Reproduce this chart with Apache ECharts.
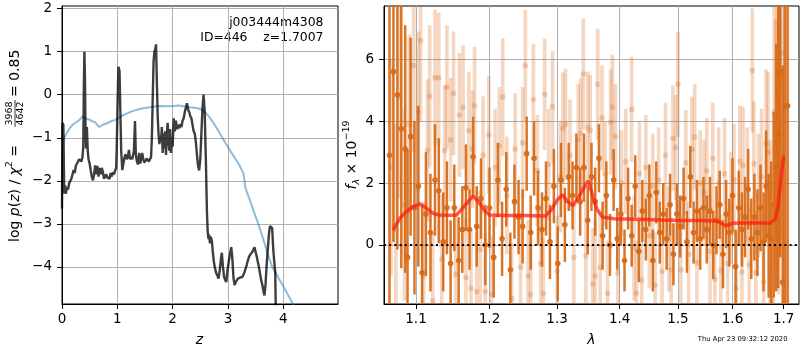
<!DOCTYPE html>
<html>
<head>
<meta charset="utf-8">
<script src="https://cdn.jsdelivr.net/npm/echarts@6/dist/echarts.min.js"></script>
<style>
  html, body { margin: 0; padding: 0; background: #fff; }
  #chart { width: 800px; height: 350px; }
</style>
</head>
<body>
<div id="chart"></div>
<script>
// ---- redshift probability: log p(z) and the template prior curve ----
const pzCurve = [
  [0.000,-2.65],[0.008,-0.65],[0.025,-0.70],[0.040,-2.30],[0.055,-2.10],[0.070,-2.30],[0.090,-2.15],[0.110,-2.20],
  [0.130,-2.05],[0.150,-2.05],[0.170,-1.95],[0.190,-1.85],[0.210,-1.75],[0.230,-1.82],[0.250,-1.65],[0.270,-1.62],
  [0.290,-1.55],[0.310,-1.50],[0.330,-1.52],[0.350,-1.55],[0.370,-1.45],[0.385,-1.20],[0.395,0.20],[0.405,1.00],
  [0.415,0.40],[0.425,-0.85],[0.435,-1.25],[0.450,-0.75],[0.465,-1.30],[0.480,-1.50],[0.500,-1.60],[0.520,-1.76],
  [0.540,-1.91],[0.560,-1.99],[0.580,-1.85],[0.600,-1.64],[0.620,-1.85],[0.640,-1.65],[0.660,-1.90],[0.680,-1.70],
  [0.700,-1.85],[0.720,-1.70],[0.740,-1.80],[0.760,-1.95],[0.780,-1.90],[0.800,-1.85],[0.820,-1.92],[0.840,-1.88],
  [0.860,-1.95],[0.880,-1.82],[0.900,-1.90],[0.920,-1.80],[0.940,-1.85],[0.960,-1.76],[0.980,-1.70],[0.990,-1.20],
  [1.005,-0.20],[1.020,0.65],[1.040,0.55],[1.055,-0.40],[1.070,-1.30],[1.090,-1.75],[1.110,-1.60],[1.130,-1.45],
  [1.150,-1.38],[1.170,-1.50],[1.190,-1.45],[1.210,-1.28],[1.230,-1.50],[1.250,-1.45],[1.270,-1.50],[1.300,-1.30],
  [1.320,-0.61],[1.335,-1.40],[1.355,-1.55],[1.375,-1.62],[1.395,-1.35],[1.415,-1.60],[1.430,-1.50],[1.450,-1.35],
  [1.470,-1.50],[1.490,-1.58],[1.510,-1.60],[1.530,-1.48],[1.550,-1.50],[1.570,-1.55],[1.590,-1.52],[1.610,-1.45],
  [1.625,-1.00],[1.640,-0.10],[1.655,0.75],[1.670,1.00],[1.685,1.05],[1.700,1.17],[1.715,0.30],[1.730,-0.50],
  [1.745,-0.90],[1.760,-1.15],[1.775,-0.95],[1.790,-1.10],[1.805,-0.75],[1.820,-1.35],[1.835,-0.90],[1.850,-1.25],
  [1.865,-0.85],[1.880,-1.40],[1.895,-0.95],[1.910,-0.65],[1.925,-1.05],[1.940,-1.30],[1.955,-0.80],[1.970,-1.35],
  [1.985,-1.10],[2.000,-1.20],[2.020,-0.55],[2.040,-0.85],[2.060,-0.60],[2.080,-0.80],[2.100,-0.70],[2.120,-0.78],
  [2.140,-0.68],[2.160,-0.75],[2.180,-0.60],[2.200,-0.55],[2.220,-0.40],[2.240,-0.30],[2.260,-0.20],[2.280,-0.35],
  [2.300,-0.40],[2.320,-0.50],[2.340,-0.55],[2.360,-0.70],[2.380,-0.85],[2.400,-0.90],[2.420,-1.10],[2.440,-1.40],
  [2.460,-1.65],[2.480,-1.76],[2.500,-1.50],[2.520,-0.90],[2.540,-0.30],[2.560,0.00],[2.580,-0.40],[2.600,-1.45],
  [2.620,-2.70],[2.635,-3.20],[2.650,-3.35],[2.660,-3.25],[2.675,-3.45],[2.690,-3.30],[2.710,-3.40],[2.730,-3.70],
  [2.750,-3.92],[2.770,-4.05],[2.790,-4.15],[2.810,-4.20],[2.830,-4.27],[2.850,-4.10],[2.870,-3.85],[2.890,-3.67],
  [2.910,-4.00],[2.930,-4.23],[2.950,-4.30],[2.970,-4.35],[2.990,-4.10],[3.010,-3.92],[3.030,-3.75],[3.060,-3.54],
  [3.080,-3.80],[3.100,-4.25],[3.120,-4.42],[3.140,-4.35],[3.160,-4.31],[3.180,-4.27],[3.200,-4.30],[3.220,-4.25],
  [3.240,-4.23],[3.260,-4.23],[3.280,-4.18],[3.300,-4.12],[3.320,-4.08],[3.340,-3.95],[3.360,-3.85],[3.380,-3.77],
  [3.400,-3.72],[3.420,-3.68],[3.440,-3.65],[3.460,-3.60],[3.480,-3.54],[3.500,-3.65],[3.520,-3.75],[3.540,-3.88],
  [3.560,-4.00],[3.580,-4.15],[3.600,-4.30],[3.620,-4.40],[3.640,-4.55],[3.660,-4.66],[3.680,-4.40],[3.700,-3.95],
  [3.720,-3.60],[3.740,-3.25],[3.760,-3.05],[3.780,-3.03],[3.800,-3.10],[3.820,-3.60],[3.840,-3.92],[3.855,-4.10],
  [3.870,-5.50]
];

const priorCurve = [
  [0.00,-1.21],[0.03,-1.05],[0.06,-0.95],[0.10,-0.86],[0.15,-0.76],[0.20,-0.69],[0.25,-0.64],[0.30,-0.60],
  [0.34,-0.55],[0.37,-0.50],[0.40,-0.52],[0.44,-0.56],[0.50,-0.58],[0.55,-0.62],[0.60,-0.64],[0.63,-0.66],
  [0.67,-0.75],[0.70,-0.72],[0.75,-0.69],[0.80,-0.67],[0.85,-0.64],[0.90,-0.61],[0.95,-0.59],[1.00,-0.56],
  [1.05,-0.52],[1.10,-0.48],[1.15,-0.45],[1.20,-0.42],[1.30,-0.37],[1.40,-0.33],[1.50,-0.31],[1.60,-0.29],
  [1.70,-0.27],[1.80,-0.26],[1.90,-0.27],[2.00,-0.27],[2.10,-0.25],[2.20,-0.27],[2.30,-0.29],[2.40,-0.30],
  [2.50,-0.33],[2.60,-0.42],[2.70,-0.58],[2.80,-0.78],[2.90,-1.00],[3.00,-1.22],[3.10,-1.42],[3.20,-1.62],
  [3.28,-1.82],[3.30,-2.00],[3.32,-2.18],[3.40,-2.46],[3.47,-2.72],[3.55,-3.00],[3.65,-3.40],[3.72,-3.70],
  [3.80,-4.00],[3.90,-4.22],[4.00,-4.45],[4.10,-4.68],[4.18,-4.87],[4.25,-5.03]
];

// ---- 1D spectrum: [wavelength (um), flux, 1-sigma error] ----
const specMain = [
  [1.066,2.9,6.0],[1.071,5.6,5.5],[1.076,4.85,5.0],[1.081,3.75,4.5],[1.086,3.1,4.0],[1.089,-0.4,3.5],
  [1.093,3.5,3.2],[1.098,1.2,2.8],[1.103,1.9,2.6],[1.108,-0.9,2.2],[1.113,1.0,2.0],[1.119,0.4,1.9],
  [1.125,2.1,1.8],[1.130,1.75,1.7],[1.136,0.1,1.6],[1.141,1.2,1.5],[1.146,-0.6,1.4],[1.151,1.2,1.4],
  [1.157,-0.5,1.4],[1.162,0.5,1.4],[1.167,1.85,1.4],[1.172,0.5,1.3],[1.177,2.85,1.3],[1.182,0.6,1.3],
  [1.188,1.5,1.3],[1.194,0.0,1.3],[1.200,1.2,1.3],[1.206,-0.4,1.3],[1.212,2.1,1.2],[1.218,0.2,1.2],
  [1.224,1.8,1.2],[1.230,-0.8,1.2],[1.236,1.4,1.2],[1.242,0.9,1.2],[1.248,0.6,1.2],[1.254,2.95,1.2],
  [1.260,0.4,1.2],[1.265,2.8,1.2],[1.271,1.2,1.2],[1.277,0.5,1.2],[1.283,1.5,1.2],[1.289,0.1,1.2],
  [1.295,1.9,1.2],[1.301,-0.6,1.2],[1.306,2.1,1.2],[1.312,0.65,1.2],[1.318,2.2,1.1],[1.324,1.6,1.1],
  [1.330,2.5,1.1],[1.336,1.4,1.1],[1.342,2.5,1.1],[1.348,0.8,1.1],[1.354,2.2,1.1],[1.360,1.4,1.1],
  [1.366,2.8,1.1],[1.372,0.3,1.1],[1.378,1.6,1.1],[1.384,0.0,1.0],[1.390,2.1,1.0],[1.396,0.2,1.0],
  [1.402,1.0,1.0],[1.408,-0.5,1.0],[1.414,1.5,1.0],[1.420,0.3,1.0],[1.426,1.9,1.0],[1.432,-0.2,1.0],
  [1.438,1.1,1.0],[1.444,0.5,1.0],[1.450,1.6,1.0],[1.456,-0.5,1.0],[1.462,1.7,1.0],[1.468,0.4,1.0],
  [1.474,1.0,1.0],[1.480,0.2,1.0],[1.486,1.3,1.0],[1.492,-0.3,1.0],[1.498,1.0,1.0],[1.504,0.6,1.0],
  [1.510,1.5,1.0],[1.516,0.1,1.0],[1.522,2.2,1.0],[1.528,0.4,1.0],[1.534,1.1,1.0],[1.540,0.2,1.0],
  [1.546,1.2,1.0],[1.552,0.5,1.1],[1.558,1.1,1.1],[1.564,0.0,1.1],[1.570,0.8,1.1],[1.576,1.3,1.1],
  [1.582,-0.3,1.1],[1.588,1.0,1.1],[1.594,0.4,1.1],[1.600,1.6,1.2],[1.606,-0.7,1.2],[1.612,1.2,1.2],
  [1.618,0.5,1.2],[1.624,0.9,1.3],[1.630,1.8,1.3],[1.636,0.2,1.3],[1.642,0.9,1.4],[1.648,0.4,1.4],
  [1.654,1.2,1.4],[1.660,0.1,1.6],[1.665,1.9,1.8],[1.670,0.3,2.0],[1.675,0.2,2.5],[1.680,1.3,3.0],
  [1.685,2.5,4.0],[1.689,3.6,5.0],[1.693,5.6,6.0],[1.698,-1.2,7.0],[1.703,4.5,8.0],[1.708,4.5,8.0]
];

const specAlt = [
  [1.068,2.5,3.5],[1.074,0.5,3.4],[1.079,4.8,3.3],[1.085,1.3,3.1],[1.091,3.9,2.9],[1.097,5.8,2.8],
  [1.103,4.3,2.6],[1.106,6.6,2.6],[1.110,-1.0,2.4],[1.115,3.05,2.3],[1.118,4.8,2.3],[1.122,-1.8,2.2],
  [1.125,5.4,2.2],[1.130,5.4,2.1],[1.134,-0.46,2.1],[1.138,3.05,2.1],[1.141,5.1,2.0],[1.146,3.4,2.0],
  [1.150,4.9,2.0],[1.153,-0.95,2.0],[1.158,4.2,2.0],[1.163,4.45,2.0],[1.167,-1.05,1.9],[1.171,3.7,1.9],
  [1.174,-1.4,1.9],[1.176,3.1,1.9],[1.179,4.5,1.9],[1.182,-1.5,1.9],[1.187,-0.15,1.9],[1.191,2.9,1.9],
  [1.194,-1.5,1.9],[1.199,3.55,1.9],[1.203,-1.6,1.9],[1.208,2.5,1.9],[1.214,3.2,1.9],[1.219,4.78,1.9],
  [1.225,1.6,1.9],[1.232,-1.74,1.8],[1.237,3.1,1.8],[1.245,-0.71,1.8],[1.248,3.3,1.8],[1.252,5.8,1.8],
  [1.256,-1.0,1.8],[1.260,-1.6,1.8],[1.264,4.7,1.8],[1.270,2.4,1.8],[1.275,-0.6,1.8],[1.279,-1.57,1.8],
  [1.281,4.87,1.8],[1.287,2.6,1.8],[1.293,4.46,1.8],[1.300,-0.85,1.8],[1.305,2.2,1.8],[1.309,3.77,1.8],
  [1.313,3.9,1.8],[1.320,2.9,1.8],[1.326,-0.4,1.8],[1.333,3.41,1.8],[1.337,3.6,1.8],[1.341,5.52,1.8],
  [1.345,-0.35,1.8],[1.348,3.8,1.8],[1.352,3.7,1.8],[1.356,-1.25,1.8],[1.360,-1.0,1.8],[1.364,5.19,1.8],
  [1.368,-0.72,1.8],[1.371,4.1,1.7],[1.376,2.3,1.7],[1.380,-1.56,1.7],[1.385,3.97,1.7],[1.388,4.45,1.7],
  [1.393,3.5,1.7],[1.397,-0.9,1.7],[1.403,2.0,1.7],[1.410,2.7,1.7],[1.420,4.38,1.7],[1.424,-0.1,1.7],
  [1.428,-1.56,1.7],[1.433,2.3,1.7],[1.437,-1.13,1.7],[1.444,2.5,1.7],[1.450,0.3,1.7],[1.456,1.9,1.7],
  [1.460,-1.3,1.7],[1.466,2.1,1.7],[1.472,-0.85,1.7],[1.478,2.9,1.7],[1.484,0.2,1.7],[1.488,-0.8,1.7],
  [1.491,3.45,1.7],[1.496,3.15,1.7],[1.500,5.19,1.7],[1.505,-0.8,1.7],[1.514,2.66,1.7],[1.519,-0.3,1.7],
  [1.525,3.09,1.7],[1.530,3.49,1.7],[1.534,-0.57,1.7],[1.540,2.0,1.7],[1.547,1.7,1.7],[1.552,2.4,1.7],
  [1.558,-0.2,1.8],[1.563,2.8,1.8],[1.567,-1.1,1.8],[1.574,2.0,1.8],[1.578,-0.82,1.8],[1.585,2.3,1.8],
  [1.591,-0.6,1.8],[1.597,1.2,1.8],[1.603,2.1,1.8],[1.607,-1.4,1.8],[1.614,2.7,1.8],[1.618,-0.87,1.9],
  [1.620,2.57,1.9],[1.628,1.9,1.9],[1.632,-0.63,1.9],[1.638,5.64,2.0],[1.641,2.63,2.0],[1.645,-0.9,2.0],
  [1.650,1.6,2.0],[1.656,2.2,2.2],[1.660,-1.2,2.3],[1.665,3.27,2.4],[1.669,3.0,2.6],[1.673,0.6,2.8],
  [1.677,-1.81,3.0],[1.681,4.3,3.5],[1.684,3.3,4.0],[1.687,4.6,4.5],[1.690,3.4,5.0],[1.692,5.13,5.5],
  [1.696,6.2,6.0]
];

// best-fit template at the chosen redshift
const modelSpec = [
  [1.0705,0.48],[1.079,0.86],[1.0876,1.08],[1.096,1.24],[1.105,1.33],[1.1136,1.19],[1.1225,1.02],[1.131,0.97],
  [1.145,0.96],[1.154,0.97],[1.1625,1.19],[1.170,1.40],[1.177,1.58],[1.186,1.35],[1.193,1.12],[1.200,0.97],
  [1.220,0.95],[1.250,0.95],[1.282,0.94],[1.291,1.13],[1.300,1.45],[1.3085,1.62],[1.316,1.40],[1.3247,1.27],
  [1.333,1.52],[1.342,1.85],[1.349,2.08],[1.356,1.58],[1.363,1.15],[1.372,0.90],[1.391,0.85],[1.430,0.83],
  [1.470,0.81],[1.494,0.80],[1.530,0.79],[1.565,0.78],[1.575,0.74],[1.582,0.67],[1.587,0.62],[1.600,0.70],
  [1.640,0.72],[1.672,0.70],[1.683,0.83],[1.689,1.26],[1.694,2.12],[1.700,2.88]
];

// tick positions
const zTicks = [0, 1, 2, 3, 4];
const logpTicks = [-4, -3, -2, -1, 0, 1, 2];
const waveTicks = [1.1, 1.2, 1.3, 1.4, 1.5, 1.6, 1.7];
const fluxTicks = [0, 2, 4, 6];

const FONT = 'DejaVu Sans';
const TICK_FS = 13.5;
const minusFmt = v => (v < 0 ? '\u2212' : '') + Math.abs(v);

// vertical error bar with a round marker, clipped to the plotting area
function errorBars(color, lw, r) {
  return function (params, api) {
    const x = api.value(0), f = api.value(1), s = api.value(2);
    const c = api.coord([x, f]);
    const hi = api.coord([x, f + s]);
    const lo = api.coord([x, f - s]);
    const cs = params.coordSys;
    const yTop = Math.max(cs.y, hi[1]);
    const yBot = Math.min(cs.y + cs.height, lo[1]);
    const kids = [];
    if (yBot > yTop) {
      kids.push({ type: 'line', shape: { x1: c[0], y1: yTop, x2: c[0], y2: yBot },
                  style: { stroke: color, lineWidth: lw } });
    }
    if (c[1] >= cs.y && c[1] <= cs.y + cs.height) {
      kids.push({ type: 'circle', shape: { cx: c[0], cy: c[1], r: r }, style: { fill: color } });
    }
    return { type: 'group', children: kids };
  };
}

function axis(extra, ticks, fmt) {
  return Object.assign({
    axisLine: { show: true, onZero: false, lineStyle: { color: '#000', width: 1 } },
    axisTick: { show: true, inside: false, length: 5, customValues: ticks, lineStyle: { color: '#000', width: 1 } },
    axisLabel: { color: '#000', fontFamily: FONT, fontSize: TICK_FS, customValues: ticks, formatter: fmt },
    splitLine: { show: true, lineStyle: { color: '#b0b0b0', width: 1 } }
  }, extra);
}

const xLeft = axis({ type: 'value', gridIndex: 0, min: 0, max: 4.99 }, zTicks, minusFmt);
xLeft.axisLabel.margin = 8;
const yLeft = axis({ type: 'value', gridIndex: 0, min: -4.86, max: 2.06 }, logpTicks, minusFmt);
yLeft.axisLabel.margin = 10;
const xRight = axis({ type: 'log', logBase: 10, gridIndex: 1, min: 1.0591, max: 1.7311 }, waveTicks, v => v.toFixed(1));
xRight.axisLabel.margin = 8;
const yRight = axis({ type: 'value', gridIndex: 1, min: -1.906, max: 7.72 }, fluxTicks, minusFmt);
yRight.axisLabel.margin = 10;

const txt = (x, y, text, size, opts) => ({
  type: 'text', x: x, y: y, silent: true,
  style: Object.assign({ text: text, fill: '#000', font: size + 'px "' + FONT + '"',
                         align: 'center', verticalAlign: 'middle' }, opts || {})
});

const option = {
  backgroundColor: '#fff',
  animation: false,
  grid: [
    { left: 62, top: 6, width: 276, height: 298, show: true, borderColor: '#000', borderWidth: 1, backgroundColor: 'transparent' },
    { left: 384, top: 6, width: 415, height: 298, show: true, borderColor: '#000', borderWidth: 1, backgroundColor: 'transparent' }
  ],
  xAxis: [xLeft, xRight],
  yAxis: [yLeft, yRight],
  series: [
    { type: 'line', xAxisIndex: 0, yAxisIndex: 0, data: priorCurve, showSymbol: false, clip: true,
      lineStyle: { color: 'rgba(31,119,180,0.5)', width: 2 }, z: 2 },
    { type: 'line', xAxisIndex: 0, yAxisIndex: 0, data: pzCurve, showSymbol: false, clip: true,
      lineStyle: { color: 'rgba(0,0,0,0.76)', width: 2.4 }, z: 3 },
    { type: 'custom', xAxisIndex: 1, yAxisIndex: 1, data: specAlt, encode: { x: 0, y: 1 },
      renderItem: errorBars('rgba(215,105,25,0.27)', 3.6, 2.8), z: 2 },
    { type: 'custom', xAxisIndex: 1, yAxisIndex: 1, data: specMain, encode: { x: 0, y: 1 },
      renderItem: errorBars('rgba(215,105,22,0.92)', 2.5, 2.8), z: 3 },
    { type: 'line', xAxisIndex: 1, yAxisIndex: 1, data: modelSpec, showSymbol: false, clip: true,
      lineStyle: { color: 'rgba(255,25,15,0.72)', width: 3.5 }, z: 4,
      markLine: { silent: true, symbol: 'none', label: { show: false },
                  lineStyle: { color: '#000', width: 1.8, type: [2, 3.2] },
                  data: [{ yAxis: 0 }] } }
  ],
  graphic: [
    txt(323.5, 22.5, 'j003444m4308', 12.4, { align: 'right' }),
    txt(323.5, 37.5, 'ID=446    z=1.7007', 12.4, { align: 'right' }),
    txt(199.5, 340, 'z', 14, { font: 'italic 14px "' + FONT + '"' }),
    txt(591.5, 340, '\u03bb', 14, { font: 'italic 14px "' + FONT + '"' }),
    txt(787.5, 339, 'Thu Apr 23 09:32:12 2020', 6.8, { align: 'right' }),
    {
      type: 'text', x: 352, y: 155, rotation: Math.PI / 2, silent: true,
      style: {
        text: '{i|f}{sub|\u03bb}{n| \u00d7 10}{sup|\u221219}',
        align: 'center', verticalAlign: 'middle', fill: '#000',
        rich: {
          i: { fontFamily: FONT, fontStyle: 'italic', fontSize: 14, lineHeight: 20, verticalAlign: 'middle' },
          sub: { fontFamily: FONT, fontStyle: 'italic', fontSize: 9.5, lineHeight: 20, verticalAlign: 'bottom' },
          n: { fontFamily: FONT, fontSize: 14, lineHeight: 20, verticalAlign: 'middle' },
          sup: { fontFamily: FONT, fontSize: 9.5, lineHeight: 20, verticalAlign: 'top' }
        }
      }
    },
    {
      type: 'group', x: 15, y: 242, rotation: Math.PI / 2, silent: true,
      children: [
        { type: 'text', x: 0, y: 0,
          style: {
            text: '{n|log }{i|p}{n|(}{i|z}{n|) / }{i|\u03c7}{sup|2}{n| =}',
            align: 'left', verticalAlign: 'middle', fill: '#000',
            rich: {
              n: { fontFamily: FONT, fontSize: 14, lineHeight: 20, verticalAlign: 'middle' },
              i: { fontFamily: FONT, fontStyle: 'italic', fontSize: 14, lineHeight: 20, verticalAlign: 'middle' },
              sup: { fontFamily: FONT, fontSize: 9.5, lineHeight: 20, verticalAlign: 'top' }
            }
          } },
        { type: 'text', x: 128.5, y: -5.5, style: { text: '3968', fill: '#000', font: '9.5px "' + FONT + '"', align: 'center', verticalAlign: 'middle' } },
        { type: 'line', shape: { x1: 115, y1: 0, x2: 142, y2: 0 }, style: { stroke: '#000', lineWidth: 0.8 } },
        { type: 'text', x: 128.5, y: 6, style: { text: '4642', fill: '#000', font: '9.5px "' + FONT + '"', align: 'center', verticalAlign: 'middle' } },
        { type: 'text', x: 145, y: 0, style: { text: '= 0.85', fill: '#000', font: '14px "' + FONT + '"', align: 'left', verticalAlign: 'middle' } }
      ]
    }
  ]
};

const chart = echarts.init(document.getElementById('chart'));
chart.setOption(option);
</script>
</body>
</html>
